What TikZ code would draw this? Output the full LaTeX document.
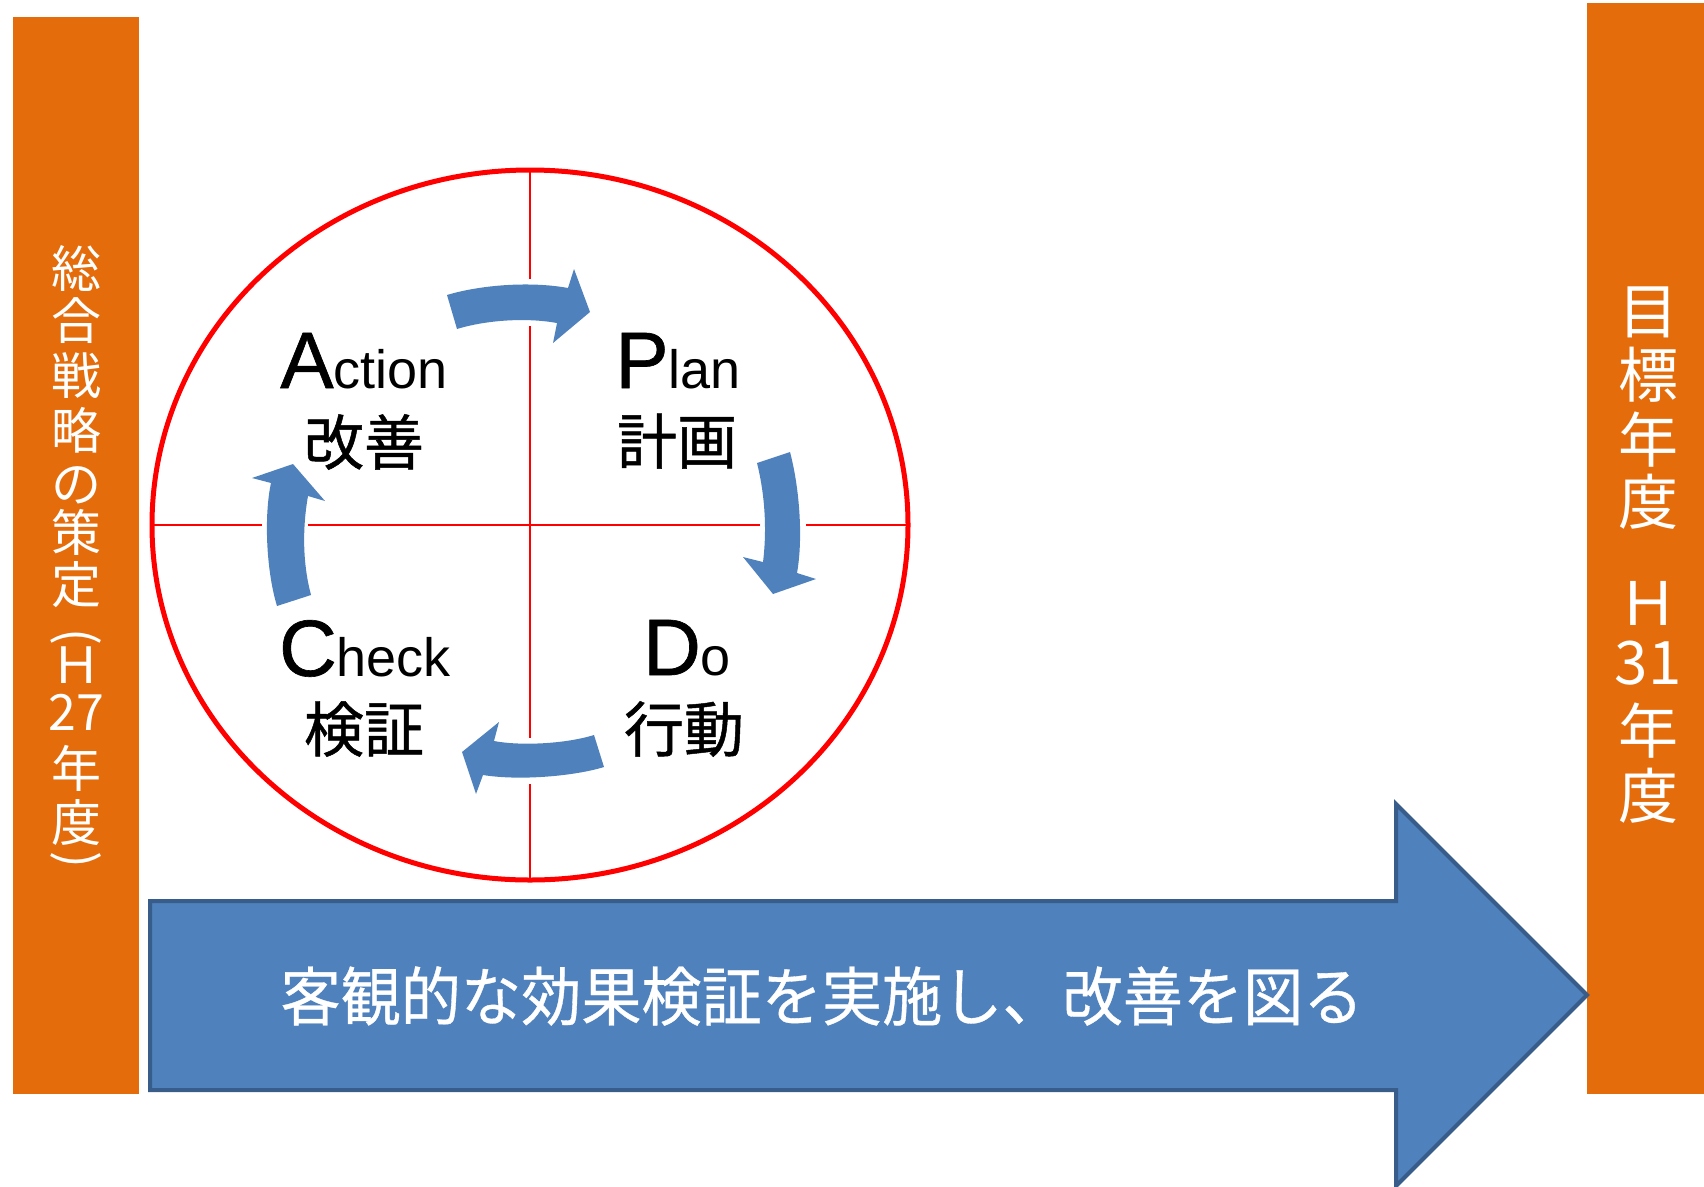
\documentclass[tikz,border=0pt]{standalone}
\usepackage{fontspec}
\setmainfont{Liberation Sans}
\newfontfamily\jp{Noto Sans CJK JP}
\newfontfamily\jpb[FakeBold=0.8]{Noto Sans CJK JP}
\newfontfamily\jpn[FakeStretch=0.94,FakeBold=0.5]{Noto Sans CJK JP}
\newfontfamily\latb[FakeBold=0.8]{Liberation Sans}
\definecolor{orng}{HTML}{E46C0A}
\definecolor{cycblue}{HTML}{4F81BD}
\definecolor{edgeblue}{HTML}{385D8A}
\tikzset{
  bar/.style={fill=orng, inner sep=0pt, anchor=north west},
  vtextL/.style={inner sep=0pt, text=white, font=\jp\fontsize{50}{50}\selectfont},
  vtextR/.style={inner sep=0pt, text=white, font=\jp\fontsize{60}{60}\selectfont},
  crossline/.style={draw=red, line width=2pt},
  cycarrow/.style={fill=cycblue},
  latinlbl/.style={inner sep=0pt, anchor=base},
  jplbl/.style={inner sep=0pt, font=\jpb\fontsize{60}{60}\selectfont},
}
\newcommand{\bigltr}[1]{{\latb\fontsize{80}{80}\selectfont #1}}
\newcommand{\smlltr}[1]{{\fontsize{54}{54}\selectfont #1}}
\begin{document}
\begin{tikzpicture}[x=1pt,y=-1pt]
\useasboundingbox (0,0) rectangle (1704,1186);
% side bars
\node[bar, minimum width=126pt, minimum height=1077pt] (leftbar) at (13,17) {};
\node[bar, minimum width=117pt, minimum height=1091pt] (rightbar) at (1587,3) {};
% left vertical text
\foreach \t/\y [count=\i] in {総/268, 合/321, 戦/376, 略/430, の/485, 策/532, 定/585, Ｈ/665, 27/712, 年/768, 度/823}
  \node[vtextL] (lv\i) at (76.5,\y) {\t};
\node[vtextL, rotate=-90] (lparen) at (76.5,637) {(};
\node[vtextL, rotate=-90] (rparen) at (76.5,860) {)};
% right vertical text
\foreach \t/\y [count=\i] in {目/312, 標/375, 年/440, 度/502, Ｈ/603, 31/663, 年/731, 度/796}
  \node[vtextR] (rv\i) at (1648,\y) {\t};
% big arrow
\draw[fill=cycblue, draw=edgeblue, line width=4pt, line join=miter]
  (150,901) -- (1396,901) -- (1396,804) -- (1587,995) -- (1396,1186) -- (1396,1090) -- (150,1090) -- cycle;
\node[inner sep=0pt, text=white, font=\jpn\fontsize{64}{64}\selectfont] (goal) at (822,996) {客観的な効果検証を実施し、改善を図る};
% cross lines
\draw[crossline] (151,525) -- (262,525) (308,525) -- (760,525) (806,525) -- (908,525);
\draw[crossline] (530,170) -- (530,279) (530,326) -- (530,738) (530,784) -- (530,881);
% circle
\draw[red, line width=5pt] (530,525) ellipse [x radius=378pt, y radius=355pt];
% cycle arrows
\fill[cycarrow] (447,295) .. controls (480,285) and (530,281) .. (568,288) -- (574,269) -- (590,312) -- (553,343) -- (557,323) .. controls (530,318) and (490,319) .. (457,329) -- cycle;
\fill[cycarrow] (757,463) -- (790,452) .. controls (800,490) and (803,540) .. (797,573) -- (816,579) -- (773,594) -- (743,557) -- (763,562) .. controls (767,530) and (765,495) .. (757,463) -- cycle;
\fill[cycarrow] (594,735) -- (604,767) .. controls (575,776) and (520,781) .. (483,775) -- (476,794) -- (462,752) -- (499,722) -- (494,741) .. controls (520,746) and (565,744) .. (594,735) -- cycle;
\fill[cycarrow] (277,606) .. controls (266,570) and (264,515) .. (271,483) -- (252,478) -- (293,464) -- (325,501) -- (308,496) .. controls (302,530) and (303,565) .. (311,595) -- cycle;
% PDCA labels
\node[latinlbl] (act) at (364,388) {\bigltr{A}\smlltr{ction}};
\node[latinlbl] (plan) at (678,388) {\bigltr{P}\smlltr{lan}};
\node[latinlbl] (chk) at (365,676) {\bigltr{C}\smlltr{heck}};
\node[latinlbl] (do) at (687,675) {\bigltr{D}\smlltr{o}};
\node[jplbl] (actj) at (364,442) {改善};
\node[jplbl] (planj) at (677,441) {計画};
\node[jplbl] (chkj) at (364,729) {検証};
\node[jplbl] (doj) at (684,729) {行動};
\end{tikzpicture}
\end{document}
